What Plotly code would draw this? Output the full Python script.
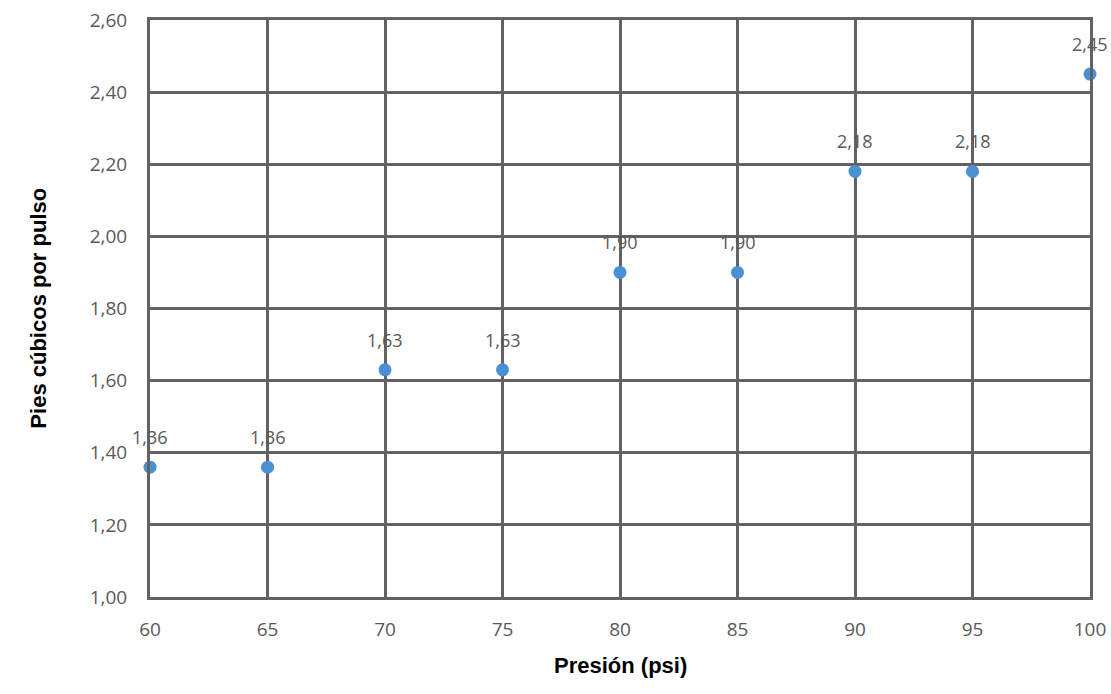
import plotly.graph_objects as go

presion = [60, 65, 70, 75, 80, 85, 90, 95, 100]
pies = [1.36, 1.36, 1.63, 1.63, 1.90, 1.90, 2.18, 2.18, 2.45]
labels = ["1,36", "1,36", "1,63", "1,63", "1,90", "1,90", "2,18", "2,18", "2,45"]

fig = go.Figure(go.Scatter(
    x=presion, y=pies, mode="markers",
    marker=dict(size=13, color="#4A90D4"),
    cliponaxis=False,
))

for xv, yv, t in zip(presion, pies, labels):
    fig.add_annotation(x=xv, y=yv, text=t, showarrow=False, yshift=30,
                       xanchor="center", yanchor="middle",
                       font=dict(family="Open Sans", size=18, color="#595959"))

grid = "#626262"
fig.update_layout(
    width=1111, height=694,
    margin=dict(l=150, r=21, t=20, b=97),
    plot_bgcolor="white", paper_bgcolor="white",
    separators=",.",
    showlegend=False,
)
fig.add_annotation(text="<b>Presión (psi)</b>", xref="paper", yref="paper", x=0.5, y=-0.118,
                   xanchor="center", yanchor="middle", showarrow=False,
                   font=dict(family="Liberation Sans", size=22, color="black"))
fig.add_annotation(text="<b>Pies cúbicos por pulso</b>", xref="paper", yref="paper", x=-0.119, y=0.5,
                   xanchor="center", yanchor="middle", showarrow=False, textangle=-90,
                   font=dict(family="Liberation Sans", size=22, color="black"))

fig.update_xaxes(
    range=[60, 100], dtick=5, tick0=60, automargin=False,
    showgrid=True, gridcolor=grid, gridwidth=2.5,
    showline=True, linecolor=grid, linewidth=3, mirror=True,
    zeroline=False, ticklabeloverflow="allow",
    tickfont=dict(family="Open Sans", size=19, color="#595959"),
    ticklabelstandoff=13,
)
fig.update_yaxes(
    range=[1.0, 2.6], dtick=0.2, tick0=1.0, tickformat=".2f", automargin=False,
    showgrid=True, gridcolor=grid, gridwidth=2.5,
    showline=True, linecolor=grid, linewidth=3, mirror=True,
    zeroline=False, ticklabeloverflow="allow",
    tickfont=dict(family="Open Sans", size=19, color="#595959"),
    ticklabelstandoff=16,
)

fig.write_html("out.html", config={"displayModeBar": False},
               post_script="document.body.style.margin='0';")
